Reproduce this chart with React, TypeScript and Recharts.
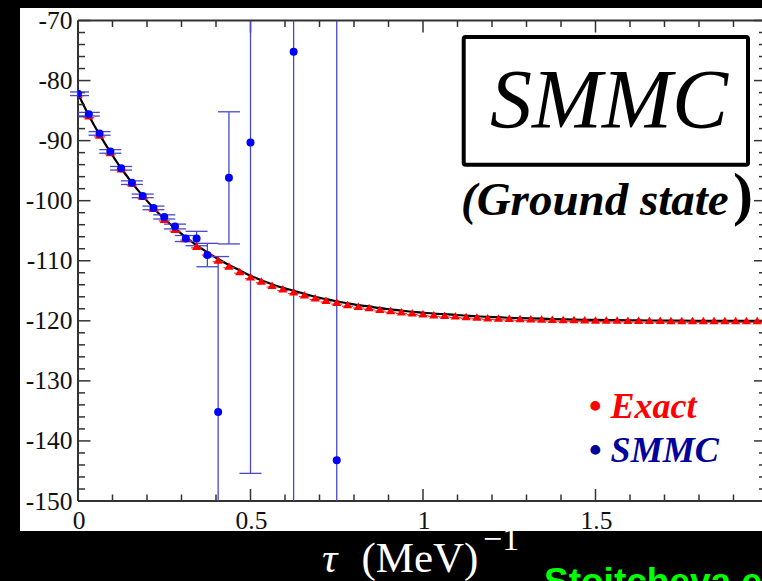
import React from 'react';
import { ComposedChart, Line, Scatter, XAxis, YAxis, ErrorBar } from 'recharts';

// Exact calculation grid (tau in MeV^-1)
const tauExact = [
  0, 0.03125, 0.0625, 0.09375, 0.125, 0.15625, 0.1875, 0.21875, 0.25, 0.28125,
  0.3125, 0.34375, 0.375, 0.40625, 0.4375, 0.46875, 0.5, 0.53125, 0.5625, 0.59375,
  0.625, 0.65625, 0.6875, 0.71875, 0.75, 0.78125, 0.8125, 0.84375, 0.875, 0.90625,
  0.9375, 0.96875, 1, 1.03125, 1.0625, 1.09375, 1.125, 1.15625, 1.1875, 1.21875,
  1.25, 1.28125, 1.3125, 1.34375, 1.375, 1.40625, 1.4375, 1.46875, 1.5, 1.53125,
  1.5625, 1.59375, 1.625, 1.65625, 1.6875, 1.71875, 1.75, 1.78125, 1.8125, 1.84375,
  1.875, 1.90625, 1.9375, 1.96875, 2,
];
// black curve
const curveE = [
  -82.2, -85.8, -89.0, -91.9, -94.6, -97.0, -99.2, -101.2, -103.0, -104.6,
  -106.1, -107.4, -108.6, -109.7, -110.7, -111.6, -112.5, -113.25, -113.9, -114.5,
  -115.0, -115.5, -116.0, -116.4, -116.75, -117.1, -117.4, -117.6, -117.9, -118.1,
  -118.3, -118.5, -118.65, -118.8, -118.9, -119.0, -119.15, -119.25, -119.35, -119.4,
  -119.5, -119.55, -119.6, -119.65, -119.7, -119.75, -119.8, -119.82, -119.85, -119.88,
  -119.9, -119.92, -119.94, -119.95, -119.96, -119.97, -119.98, -119.99, -120.0, -120.0,
  -120.0, -120.0, -120.0, -120.0, -120.0,
];
// red "Exact" points
const exactE = [
  -82.4, -86.0, -89.2, -92.1, -94.8, -97.2, -99.4, -101.4, -103.2, -104.9,
  -106.4, -107.7, -108.9, -110.0, -111.0, -111.9, -112.8, -113.5, -114.2, -114.8,
  -115.3, -115.8, -116.3, -116.7, -117.05, -117.4, -117.7, -117.9, -118.2, -118.4,
  -118.6, -118.8, -118.95, -119.1, -119.2, -119.3, -119.4, -119.5, -119.6, -119.65,
  -119.7, -119.75, -119.8, -119.83, -119.86, -119.89, -119.92, -119.95, -119.97, -119.98,
  -120.0, -120.02, -120.03, -120.04, -120.05, -120.06, -120.07, -120.08, -120.08, -120.08,
  -120.08, -120.08, -120.08, -120.08, -120.08,
];

// SMMC points
const tauSmmc = [
  0, 0.03125, 0.0625, 0.09375, 0.125, 0.15625, 0.1875, 0.21875, 0.25, 0.28125,
  0.3125, 0.34375, 0.375, 0.40625, 0.4375, 0.5, 0.625, 0.75,
];
const smmcE = [
  -82.2, -85.6, -88.8, -91.8, -94.6, -97.0, -99.2, -101.2, -102.7, -104.3,
  -106.3, -106.3, -109.05, -135.2, -96.2, -90.3, -75.2, -143.2,
];
const smmcErr = [
  0.3, 0.3, 0.3, 0.3, 0.3, 0.3, 0.3, 0.3, 0.35, 0.4,
  0.5, 1.2, 1.95, 25.9, 11.0, 55.1, 90, 90,
];

const xMajorTicks = [0, 0.5, 1, 1.5, 2];
const xTickValues = [
  0, 0.1, 0.2, 0.3, 0.4, 0.5, 0.6, 0.7, 0.8, 0.9, 1,
  1.1, 1.2, 1.3, 1.4, 1.5, 1.6, 1.7, 1.8, 1.9, 2,
];
// labels shown under the bottom axis (the one at 2 lies beyond the cropped edge)
const xTickLabels: Record<string, string> = { '0': '0', '0.5': '0.5', '1': '1', '1.5': '1.5' };
const yMajorTicks = [-150, -140, -130, -120, -110, -100, -90, -80, -70];
const yTickValues = [
  -150, -148, -146, -144, -142, -140, -138, -136, -134, -132, -130,
  -128, -126, -124, -122, -120, -118, -116, -114, -112, -110,
  -108, -106, -104, -102, -100, -98, -96, -94, -92, -90,
  -88, -86, -84, -82, -80, -78, -76, -74, -72, -70,
];

const curveData = tauExact.map((x, i) => ({ x, y: curveE[i] }));
const exactData = tauExact.map((x, i) => ({ x, y: exactE[i] }));
const smmcData = tauSmmc.map((x, i) => ({ x, y: smmcE[i], err: smmcErr[i] }));

const AXIS = '#333';
const SERIF = '"Liberation Serif", "Times New Roman", serif';
const CHART_W = 780;
const CHART_H = 581;
const MARGIN = { top: 20.5, right: 12, bottom: 80, left: 78 };

const XTickBottom = (p: any) => {
  const v = p.payload.value;
  const major = xMajorTicks.includes(v);
  const label = xTickLabels[String(v)];
  return (
    <g>
      <line x1={p.x} y1={p.y} x2={p.x} y2={p.y - (major ? 12 : 6.5)} stroke={AXIS} strokeWidth={1.5} />
      {major && label && (
        <text x={p.x + 1} y={p.y + 28} textAnchor="middle" fontSize={25.5} fontFamily={SERIF} fill="#111">
          {label}
        </text>
      )}
    </g>
  );
};
const XTickTop = (p: any) => {
  const v = p.payload.value;
  const major = xMajorTicks.includes(v);
  return <line x1={p.x} y1={p.y} x2={p.x} y2={p.y + (major ? 12 : 6.5)} stroke={AXIS} strokeWidth={1.5} />;
};
const YTickLeft = (p: any) => {
  const v = p.payload.value;
  const major = yMajorTicks.includes(v);
  return (
    <g>
      <line x1={p.x} y1={p.y} x2={p.x + (major ? 12.5 : 7)} y2={p.y} stroke={AXIS} strokeWidth={1.5} />
      {major && (
        <text x={p.x - 5.5} y={p.y + 8.5} textAnchor="end" fontSize={25.5} fontFamily={SERIF} fill="#111">
          {String(v)}
        </text>
      )}
    </g>
  );
};
const YTickRight = (p: any) => {
  const v = p.payload.value;
  const major = yMajorTicks.includes(v);
  return <line x1={p.x} y1={p.y} x2={p.x - (major ? 14 : 9)} y2={p.y} stroke={AXIS} strokeWidth={1.5} />;
};

const TriShape = (p: any) => {
  const { cx, cy } = p;
  if (cx == null || cy == null) return <g />;
  return (
    <g>
      <line x1={cx - 5.5} y1={cy + 1} x2={cx + 5.5} y2={cy + 1} stroke="#ff3030" strokeWidth={1.2} />
      <polygon points={`${cx},${cy - 4.5} ${cx - 4.6},${cy + 3} ${cx + 4.6},${cy + 3}`} fill="#ff0000" />
    </g>
  );
};
const DotShape = (p: any) => {
  const { cx, cy } = p;
  if (cx == null || cy == null) return <g />;
  return <circle cx={cx} cy={cy} r={4} fill="#0000ff" />;
};

// clip box for the data layer: exact top/bottom of the plot area
const CLIP_LEFT = 70;
const CLIP_TOP = MARGIN.top;
const CLIP_W = 762 - CLIP_LEFT;
const CLIP_H = CHART_H - MARGIN.top - MARGIN.bottom;

export default function App() {
  return (
    <div style={{ position: 'absolute', left: 0, top: 0, width: 762, height: 581, background: '#000', overflow: 'hidden' }}>
      <div style={{ position: 'absolute', left: 20, top: 8, width: 742, height: 523, background: '#fff' }} />
      {/* axes + exact curve */}
      <div style={{ position: 'absolute', left: 0, top: 0 }}>
        <ComposedChart width={CHART_W} height={CHART_H} margin={{ top: 19.5, right: 11, bottom: 79, left: 77 }}>
          <XAxis
            xAxisId="b" dataKey="x" type="number" domain={[0, 2]} allowDataOverflow
            ticks={xTickValues} interval={0} tickSize={0} tickMargin={0} tickLine={false}
            tick={XTickBottom} height={1} axisLine={{ stroke: AXIS, strokeWidth: 2 }}
          />
          <XAxis
            xAxisId="t" orientation="top" dataKey="x" type="number" domain={[0, 2]} allowDataOverflow
            ticks={xTickValues} interval={0} tickSize={0} tickMargin={0} tickLine={false}
            tick={XTickTop} height={1} axisLine={{ stroke: AXIS, strokeWidth: 2 }}
          />
          <YAxis
            yAxisId="l" dataKey="y" type="number" domain={[-150, -70]} allowDataOverflow
            ticks={yTickValues} interval={0} tickSize={0} tickMargin={0} tickLine={false}
            tick={YTickLeft} width={1} axisLine={{ stroke: AXIS, strokeWidth: 2 }}
          />
          <YAxis
            yAxisId="r" orientation="right" dataKey="y" type="number" domain={[-150, -70]} allowDataOverflow
            ticks={yTickValues} interval={0} tickSize={0} tickMargin={0} tickLine={false}
            tick={YTickRight} width={1} axisLine={{ stroke: AXIS, strokeWidth: 2 }}
          />
          <Line
            xAxisId="b" yAxisId="l" data={curveData} dataKey="y" type="monotone"
            stroke="#000" strokeWidth={2.2} dot={false} activeDot={false} isAnimationActive={false}
          />
        </ComposedChart>
      </div>
      {/* points layer, clipped to the plot's vertical extent */}
      <div style={{ position: 'absolute', left: CLIP_LEFT, top: CLIP_TOP, width: CLIP_W, height: CLIP_H, overflow: 'hidden' }}>
        <div style={{ position: 'absolute', left: -CLIP_LEFT, top: -CLIP_TOP }}>
          <ComposedChart width={CHART_W} height={CHART_H} margin={MARGIN}>
            <XAxis dataKey="x" type="number" domain={[0, 2]} allowDataOverflow hide />
            <YAxis dataKey="y" type="number" domain={[-150, -70]} allowDataOverflow hide />
            <Scatter data={exactData} dataKey="y" shape={TriShape} isAnimationActive={false} />
            <Scatter data={smmcData} dataKey="y" shape={DotShape} isAnimationActive={false}>
              <ErrorBar dataKey="err" direction="y" width={11} stroke="#4848c8" strokeWidth={1.3} />
            </Scatter>
          </ComposedChart>
        </div>
      </div>
      <svg style={{ position: 'absolute', left: 0, top: 0 }} width={762} height={581}>
        <rect x={463.7} y={37} width={284.3} height={127.7} fill="#fff" stroke="#000" strokeWidth={4} rx={2} />
        <text x={609} y={128} textAnchor="middle" fontSize={84} fontStyle="italic" fontFamily={SERIF} fill="#000">
          SMMC
        </text>
        <text x={461} y={215} fontSize={47} fontStyle="italic" fontWeight="bold" fontFamily={SERIF} fill="#000">
          (Ground state
        </text>
        <text x={733} y={214} fontSize={60} fontWeight="bold" fontFamily={SERIF} fill="#000">
          )
        </text>
        <text x={589} y={418} fontSize={36} fontWeight="bold" fontFamily={SERIF} fill="#ff0000">
          <tspan>•</tspan>
          <tspan fontStyle="italic"> Exact</tspan>
        </text>
        <text x={589} y={462} fontSize={36} fontWeight="bold" fontFamily={SERIF} fill="#00009a">
          <tspan>•</tspan>
          <tspan fontStyle="italic"> SMMC</tspan>
        </text>
        <text x={322} y={572} fontSize={43} fontFamily={SERIF} fill="#fff">
          <tspan fontStyle="italic">τ</tspan>
          <tspan dx={24}>(MeV)</tspan>
        </text>
        <text x={483} y={550} fontSize={34} fontFamily={SERIF} fill="#fff">−1</text>
        <text x={544} y={594} fontSize={37} fontWeight="bold" fontFamily='"Liberation Sans", Arial, sans-serif' fill="#00ff00">
          Stoitcheva et al.
        </text>
      </svg>
    </div>
  );
}
